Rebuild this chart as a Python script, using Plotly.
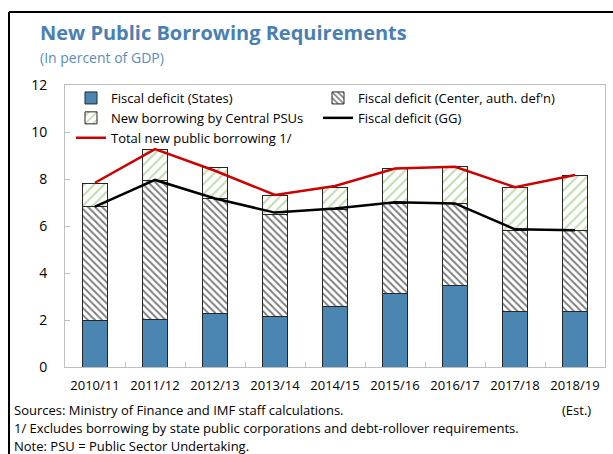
import plotly.graph_objects as go

categories = ["2010/11", "2011/12", "2012/13", "2013/14", "2014/15",
              "2015/16", "2016/17", "2017/18", "2018/19"]
states = [1.97, 2.03, 2.28, 2.13, 2.58, 3.13, 3.46, 2.35, 2.38]
center = [4.85, 5.90, 4.88, 4.38, 4.13, 3.83, 3.48, 3.48, 3.44]
psu = [1.00, 1.33, 1.32, 0.77, 0.94, 1.48, 1.58, 1.80, 2.35]
gg = [6.82, 7.96, 7.17, 6.57, 6.75, 7.01, 6.96, 5.86, 5.82]
total = [7.84, 9.27, 8.35, 7.32, 7.70, 8.45, 8.52, 7.65, 8.17]
y_ticks = [0, 2, 4, 6, 8, 10, 12]

FONT = "Open Sans"
W, H = 613, 454
L, R, T, B = 65, 8, 85, 87
PW, PH = W - L - R, H - T - B


def px(x):
    return (x - L) / PW


def py(y):
    return (H - B - y) / PH


fig = go.Figure()
fig.add_trace(go.Bar(
    x=categories, y=states, name="Fiscal deficit (States)",
    marker=dict(color="#4a86b1", line=dict(color="#262626", width=1)),
    width=0.42))
fig.add_trace(go.Bar(
    x=categories, y=center, name="Fiscal deficit (Center, auth. def'n)",
    marker=dict(color="white", line=dict(color="#262626", width=1),
                pattern=dict(shape="\\", fgcolor="black", bgcolor="white",
                             size=5, solidity=0.4)),
    width=0.42))
fig.add_trace(go.Bar(
    x=categories, y=psu, name="New borrowing by Central PSUs",
    marker=dict(color="white", line=dict(color="#262626", width=1),
                pattern=dict(shape="/", fgcolor="#86b962", bgcolor="white",
                             size=7, solidity=0.3)),
    width=0.42))
fig.add_trace(go.Scatter(
    x=categories, y=gg, name="Fiscal deficit (GG)", mode="lines",
    line=dict(color="black", width=2.5)))
fig.add_trace(go.Scatter(
    x=categories, y=total, name="Total new public borrowing 1/", mode="lines",
    line=dict(color="#d00000", width=2.5)))

annotations = [
    dict(text="<b>New Public Borrowing Requirements</b>", x=px(38), y=py(33),
         font=dict(size=20, color="#4a7fb3", family=FONT)),
    dict(text="(In percent of GDP)", x=px(38), y=py(57),
         font=dict(size=14, color="#5a8cc0", family=FONT)),
    dict(text="Sources: Ministry of Finance and IMF staff calculations.", x=px(12), y=py(410),
         font=dict(size=13, color="black", family=FONT)),
    dict(text="1/ Excludes borrowing by state public corporations and debt-rollover requirements.",
         x=px(12), y=py(428), font=dict(size=13, color="black", family=FONT)),
    dict(text="Note: PSU = Public Sector Undertaking.", x=px(12), y=py(446),
         font=dict(size=13, color="black", family=FONT)),
]
for a in annotations:
    a.update(xref="paper", yref="paper", xanchor="left", yanchor="middle", showarrow=False)
annotations.append(dict(text="(Est.)", x=px(576), y=py(410), xref="paper", yref="paper",
                        xanchor="center", yanchor="middle", showarrow=False,
                        font=dict(size=13, color="black", family=FONT)))

shapes = [
    dict(type="line", xref="paper", yref="paper", x0=px(9), x1=px(9), y0=py(12), y1=py(470),
         line=dict(color="black", width=2)),
    dict(type="line", xref="paper", yref="paper", x0=px(9), x1=px(640), y0=py(12), y1=py(12),
         line=dict(color="black", width=2)),
]

fig.update_layout(
    width=W, height=H,
    margin=dict(l=L, r=R, t=T, b=B),
    barmode="stack",
    plot_bgcolor="white", paper_bgcolor="white",
    font=dict(family=FONT, size=14, color="black"),
    showlegend=True,
    legend=dict(orientation="h", traceorder="normal", x=px(71), y=py(83),
                xanchor="left", yanchor="top", entrywidth=202, entrywidthmode="pixels",
                font=dict(size=13, family=FONT), bgcolor="rgba(0,0,0,0)",
                itemwidth=30, tracegroupgap=0),
    annotations=annotations,
    shapes=shapes,
    xaxis=dict(showline=True, linecolor="#bfbfbf", linewidth=1, mirror=True,
               ticks="inside", tickson="boundaries", ticklen=5, tickcolor="#bfbfbf",
               showgrid=False, tickfont=dict(size=13), ticklabelstandoff=6,
               tickangle=0),
    yaxis=dict(range=[0, 12], tickvals=y_ticks, showline=True, linecolor="#bfbfbf",
               linewidth=1, mirror=True, ticks="inside", ticklen=5, tickcolor="#bfbfbf",
               showgrid=False, zeroline=False, tickfont=dict(size=14),
               ticklabelstandoff=14),
)

fig.write_html("out.html")
